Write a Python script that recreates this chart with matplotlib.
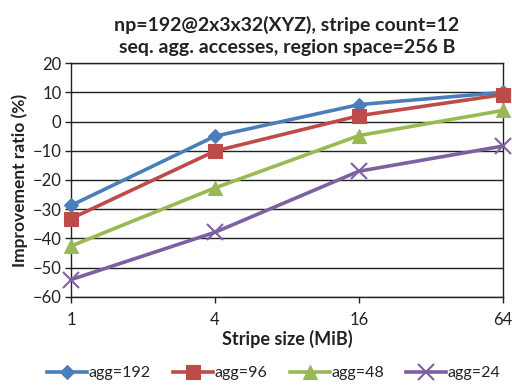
import matplotlib
matplotlib.use("Agg")
import matplotlib.pyplot as plt
from matplotlib.lines import Line2D

plt.rcParams['font.family'] = ['Lato', 'DejaVu Sans']

stripe_sizes = ["1", "4", "16", "64"]
agg192 = [-28.7, -5.0, 5.8, 10.0]
agg96 = [-33.2, -10.1, 2.0, 9.2]
agg48 = [-42.6, -22.7, -4.8, 3.8]
agg24 = [-54.1, -37.9, -17.0, -8.4]

series = [
    ("agg=192", agg192, "#4A7EBB", "D", 7.5),
    ("agg=96", agg96, "#BE4B48", "s", 10),
    ("agg=48", agg48, "#98B954", "^", 10),
    ("agg=24", agg24, "#7D60A0", "x", 11),
]

fig = plt.figure(figsize=(5.12, 3.85), dpi=100)
ax = fig.add_axes([0.139, 0.229, 0.843, 0.607])

x = list(range(len(stripe_sizes)))
for label, vals, color, marker, ms in series:
    ax.plot(x, vals, color=color, lw=2.6, marker=marker, markersize=ms,
            markeredgewidth=1.5 if marker == "x" else 0.8,
            markeredgecolor=color, markerfacecolor=color, label=label,
            clip_on=False, zorder=3)

ax.set_xlim(0, 3)
ax.set_ylim(-60, 20)
ax.set_yticks(range(-60, 21, 10))
ax.set_xticks(x)
ax.set_xticklabels(stripe_sizes)
ax.yaxis.grid(True, color="#222222", lw=1.0)
ax.set_axisbelow(True)
for side in ["left", "bottom", "right", "top"]:
    ax.spines[side].set_color("#222222")
    ax.spines[side].set_linewidth(1.0)
ax.tick_params(axis="both", direction="out", length=4, width=1, color="#222222",
               labelsize=12, labelcolor="#222222")
ax.tick_params(axis="x", pad=7)
ax.tick_params(axis="y", pad=3)

ax.set_xlabel("Stripe size (MiB)", fontsize=13, fontweight="bold", color="#222222", labelpad=1)
ax.set_ylabel("Improvement ratio (%)", fontsize=12.5, fontweight="bold", color="#222222", labelpad=3)
ax.set_title("np=192@2x3x32(XYZ), stripe count=12\nseq. agg. accesses, region space=256 B",
             fontsize=14, fontweight="bold", color="#222222", pad=7, linespacing=1.4)

handles = [Line2D([0], [0], color=c, lw=2.6, marker=m, markersize=ms,
                  markeredgecolor=c, markerfacecolor=c,
                  markeredgewidth=1.5 if m == "x" else 0.8)
           for _, _, c, m, ms in series]
fig.legend(handles, [s[0] for s in series], loc="lower center", ncol=4,
           bbox_to_anchor=(0.535, -0.025), frameon=False, fontsize=11.5,
           handlelength=2.5, handletextpad=0.1, columnspacing=1.4,
           labelcolor="#222222")

fig.savefig("out.png", dpi=100)
